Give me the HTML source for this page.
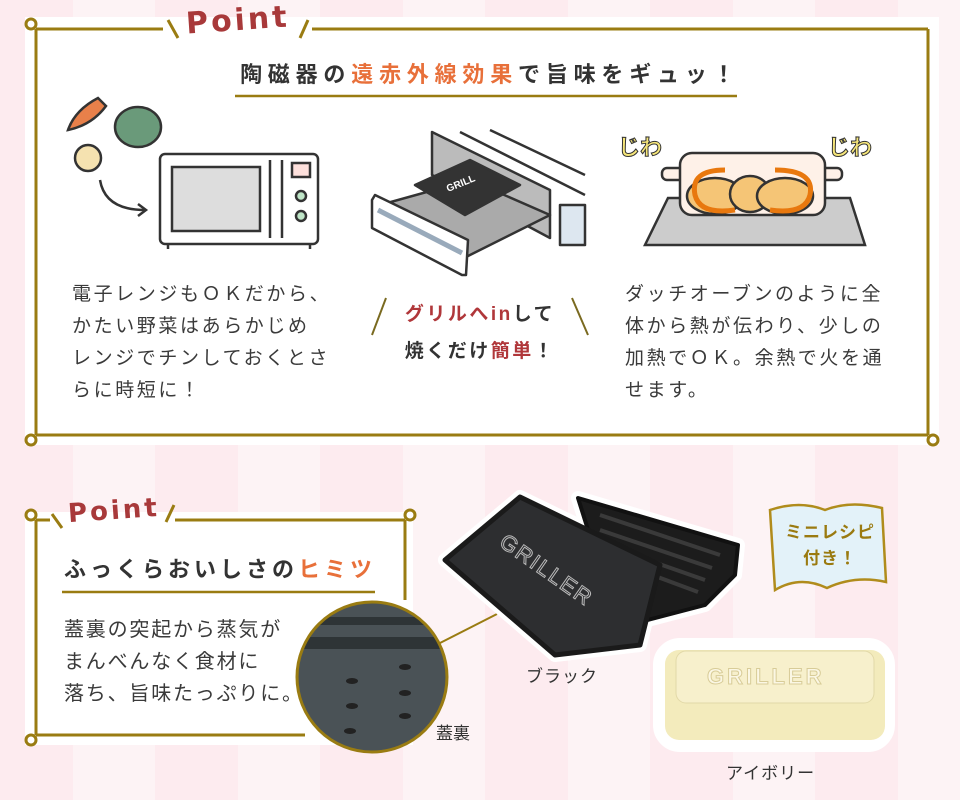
<!DOCTYPE html>
<html><head><meta charset="utf-8"><style>
html,body{margin:0;padding:0}
body{width:960px;height:800px;position:relative;overflow:hidden;font-family:"Liberation Sans","Noto Sans CJK JP",sans-serif;color:#333;
background:repeating-linear-gradient(90deg,#fdebef -9px 73px,#fdf3f5 73px 155px,#fdebef 155px 238px,#fdf3f5 238px 320px);background-size:330px 100%;background-position:0 0;}
.a{position:absolute;margin:0;white-space:nowrap}
.t{font-size:19px;line-height:32px;letter-spacing:2.6px;color:#3a3a3a}
.o{color:#e8703a}
.r{color:#b0373a}
.p{font-family:"DejaVu Sans","Liberation Sans",sans-serif;font-weight:bold;color:#a8393a;letter-spacing:3px}
</style></head><body>
<div class="a" style="left:25px;top:17px;width:914px;height:428px;background:#fff"></div>
<div class="a" style="left:25px;top:512px;width:388px;height:233px;background:#fff"></div>
<svg class="a" style="left:0;top:0" width="960" height="800">
<g fill="none" stroke="#9a7c12" stroke-width="3">
<path d="M36 29 V435 M36 435 H928 M928 29 V435 M36 29 H163 M312 29 H928"/>
<circle cx="31" cy="24" r="5"/><circle cx="31" cy="440" r="5"/><circle cx="933" cy="440" r="5"/>
<path d="M168 20 L178 38 M308 20 L300 38"/>
<path d="M235 96 H737" stroke-width="2.5"/>
<path d="M36 520 V735 M36 735 H305 M405 520 V600 M36 520 H50 M175 520 H405"/>
<circle cx="31" cy="515" r="5"/><circle cx="31" cy="740" r="5"/><circle cx="410" cy="515" r="5"/>
<path d="M52 514 L62 528 M174 505 L166 522"/>
<path d="M62 592 H375" stroke-width="2.5"/>
<path d="M386 298 L372 335 M572 298 L588 335" stroke="#7a6a20" stroke-width="2"/>
<path d="M440 643 L497 614" stroke-width="2"/>
</g>
<!-- microwave -->
<g stroke="#333" stroke-width="2.5" fill="#fff">
<rect x="160" y="154" width="158" height="90" rx="5"/>
<rect x="172" y="167" width="88" height="64" fill="#ddd"/>
<path d="M270 160 V238 M282 160 V238"/>
<rect x="292" y="163" width="18" height="14" fill="#fde0dc"/>
<circle cx="301" cy="196" r="5" fill="#bfe5c7"/><circle cx="301" cy="216" r="5" fill="#bfe5c7"/>
<path d="M168 244 v5 M310 244 v5"/>
<path d="M100 180 Q105 210 145 210" fill="none"/><path d="M138 204 L146 210 L138 216" fill="none"/>
<path d="M68 130 Q75 110 98 98 L106 106 Q92 125 68 130 Z" fill="#e8804a"/>
<ellipse cx="138" cy="127" rx="23" ry="20" fill="#6a9a7a"/>
<circle cx="88" cy="158" r="13" fill="#f5e2b0"/>
</g>
<!-- grill -->
<g stroke="#333" stroke-width="2.5" stroke-linejoin="round">
<path d="M432 132 L550 190 V238 L432 175 Z" fill="#bbb"/>
<path d="M460 132 L585 195 M490 130 L585 175" fill="none"/>
<path d="M380 205 L460 260 L550 215 L470 180 Z" fill="#aaa"/>
<path d="M415 185 L470 160 L520 185 L465 215 Z" fill="#333"/>
<path d="M372 200 L375 195 L468 240 L466 275 L462 275 L372 228 Z" fill="#fff"/>
<path d="M378 210 L462 253" stroke="#9ab" stroke-width="5"/>
<rect x="560" y="205" width="25" height="40" fill="#dde7f0"/>
</g>
<text x="448" y="192" font-size="10" fill="#fff" font-weight="bold" transform="rotate(-22 448 192)">GRILL</text>
<!-- oven -->
<g stroke="#333" stroke-width="2.5">
<path d="M668 198 H850 L865 245 H645 Z" fill="#ccc"/>
<rect x="662" y="168" width="180" height="12" rx="5" fill="#fef1e8"/>
<rect x="680" y="153" width="145" height="62" rx="12" fill="#fef1e8"/>
<ellipse cx="715" cy="196" rx="28" ry="18" fill="#f5c576"/><ellipse cx="750" cy="194" rx="20" ry="18" fill="#f5c576"/><ellipse cx="785" cy="196" rx="28" ry="18" fill="#f5c576"/>
</g>
<g fill="none" stroke="#e8780e" stroke-width="5"><path d="M725 170 Q690 170 695 195 Q700 215 735 210"/><path d="M775 170 Q815 170 810 195 Q805 215 770 210"/></g>
<text x="618" y="155" font-size="22" font-weight="bold" fill="#f6e67a" stroke="#333" stroke-width="1">じわ</text>
<text x="828" y="155" font-size="22" font-weight="bold" fill="#f6e67a" stroke="#333" stroke-width="1">じわ</text>
<!-- black griller -->
<g stroke="#fff" stroke-width="14" stroke-linejoin="round">
<path d="M578 498 L738 545 L735 575 L705 605 L640 622 L610 600 Z" fill="#fff"/>
<path d="M445 560 L520 497 L660 565 L640 645 L555 655 Z" fill="#fff"/>
<rect x="660" y="645" width="228" height="100" rx="20" fill="#fff"/>
</g>
<path d="M578 498 L738 545 L735 575 L705 605 L640 622 L610 600 Z" fill="#1c1c1c" stroke="#111" stroke-width="4" stroke-linejoin="round"/>
<g stroke="#3a3a3a" stroke-width="4"><path d="M600 515 L720 555 M600 530 L712 568 M605 545 L705 580 M612 560 L698 592"/></g>
<path d="M445 560 L520 497 L660 565 L640 645 L555 655 Z" fill="#2d2e30" stroke="#1a1a1a" stroke-width="5" stroke-linejoin="round"/>
<rect x="665" y="650" width="220" height="90" rx="14" fill="#f3ebbc"/>
<rect x="676" y="651" width="198" height="52" rx="10" fill="#f7f0cc" stroke="#e2d9a8"/>
<text x="498" y="545" font-size="22" fill="none" stroke="#bbb" stroke-width="1" transform="rotate(35 498 545)" letter-spacing="2">GRILLER</text>
<text x="707" y="684" font-size="22" font-weight="bold" fill="#fbf7e4" stroke="#d8cc98" stroke-width="1" letter-spacing="3">GRILLER</text>
<!-- circle -->
<clipPath id="c"><circle cx="372" cy="677" r="75"/></clipPath>
<g clip-path="url(#c)"><rect x="290" y="600" width="170" height="160" fill="#4a5256"/>
<rect x="290" y="617" width="170" height="8" fill="#2e3436"/><rect x="290" y="637" width="170" height="12" fill="#2e3436"/>
<g fill="#222"><ellipse cx="352" cy="681" rx="6" ry="3"/><ellipse cx="405" cy="667" rx="6" ry="3"/><ellipse cx="352" cy="706" rx="6" ry="3"/><ellipse cx="405" cy="693" rx="6" ry="3"/><ellipse cx="405" cy="716" rx="6" ry="3"/><ellipse cx="350" cy="731" rx="6" ry="3"/></g></g>
<circle cx="372" cy="677" r="75" fill="none" stroke="#9a7c12" stroke-width="3"/>
<!-- recipe -->
<path d="M770 510 Q800 500 825 510 Q850 500 882 508 L886 582 Q855 575 827 588 Q800 575 775 590 Z" fill="#e3f2f9" stroke="#b08c1c" stroke-width="2.5"/>
</svg>
<div class="a p" style="left:186px;top:3px;font-size:30px;transform:rotate(-4deg)">Point</div>
<div class="a p" style="left:68px;top:496px;font-size:26px;transform:rotate(-4deg)">Point</div>
<div class="a" style="left:240px;top:57px;font-size:22px;font-weight:bold;letter-spacing:5.8px;color:#333">陶磁器の<span class="o">遠赤外線効果</span>で旨味をギュッ！</div>
<div class="a t" style="left:72px;top:279px">電子レンジもＯＫだから、<br>かたい野菜はあらかじめ<br>レンジでチンしておくとさ<br>らに時短に！</div>
<div class="a" style="left:380px;top:296px;width:200px;font-size:19px;font-weight:bold;line-height:37px;text-align:center;letter-spacing:2.5px"><span class="r">グリルへin</span>して<br>焼くだけ<span class="r">簡単</span>！</div>
<div class="a t" style="left:625px;top:279px">ダッチオーブンのように全<br>体から熱が伝わり、少しの<br>加熱でＯＫ。余熱で火を通<br>せます。</div>
<div class="a" style="left:64px;top:552px;font-size:22px;font-weight:bold;letter-spacing:4px">ふっくらおいしさの<span class="o">ヒミツ</span></div>
<div class="a t" style="left:64px;top:614px;font-size:20px;letter-spacing:1.8px">蓋裏の突起から蒸気が<br>まんべんなく食材に<br>落ち、旨味たっぷりに。</div>
<div class="a" style="left:436px;top:719px;font-size:17px">蓋裏</div>
<div class="a" style="left:526px;top:662px;font-size:17px;letter-spacing:1px">ブラック</div>
<div class="a" style="left:726px;top:759px;font-size:17px;letter-spacing:1px">アイボリー</div>
<div class="a" style="left:775px;top:520px;width:110px;text-align:center;font-size:17px;font-weight:bold;color:#9a7a10;line-height:26px;letter-spacing:1px">ミニレシピ<br>付き！</div>
</body></html>
